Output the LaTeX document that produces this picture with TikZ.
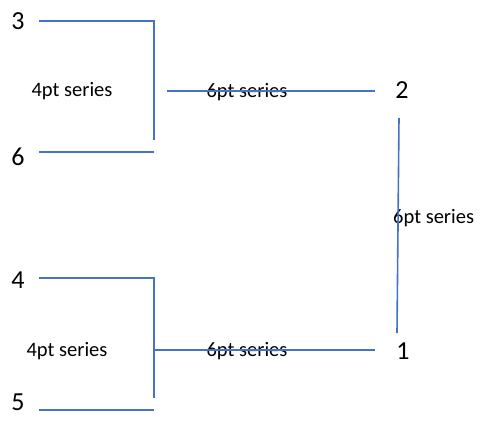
\documentclass[tikz,border=0pt]{standalone}
\usepackage{fontspec}
\setmainfont{Carlito}
\definecolor{lineblue}{RGB}{68,114,196}
\begin{document}
\begin{tikzpicture}[x=1pt,y=-1pt,
  num/.style={font=\fontsize{26}{28}\selectfont, inner sep=0pt},
  lbl/.style={font=\fontsize{20.5}{22}\selectfont, inner sep=0pt},
  wire/.style={draw=lineblue, line width=1.6pt}]
\useasboundingbox (0,0) rectangle (483,428);
% numbers
\node[num] (n3) at (18,21) {3};
\node[num] (n6) at (18,157) {6};
\node[num] (n4) at (18,280) {4};
\node[num] (n5) at (18,402) {5};
\node[num] (n2) at (402,90) {2};
\node[num] (n1) at (403,351) {1};
% labels
\node[lbl] (l4a) at (72,91) {4pt series};
\node[lbl] (l4b) at (67,351) {4pt series};
\node[lbl] (l6a) at (247,92) {6pt series};
\node[lbl] (l6b) at (247,351) {6pt series};
\node[lbl, anchor=west] (l6c) at (393,218) {6pt series};
% line end points
\coordinate (a3) at (39,21);
\coordinate (b3) at (154,21);
\coordinate (a6) at (39,152);
\coordinate (b6) at (154,152);
\coordinate (v1) at (154,140);
\coordinate (t1) at (167,91);
\coordinate (t2) at (375,91);
\coordinate (a4) at (39,278);
\coordinate (b4) at (154,278);
\coordinate (a5) at (39,410);
\coordinate (b5) at (154,410);
\coordinate (v2) at (154,398);
\coordinate (m2) at (154,350);
\coordinate (u2) at (375,350);
\coordinate (r1) at (399,118);
\coordinate (r2) at (397,333);
% lines
\draw[wire] (a3) -- (b3) -- (v1);
\draw[wire] (a6) -- (b6);
\draw[wire] (t1) -- (t2);
\draw[wire] (a4) -- (b4) -- (v2);
\draw[wire] (a5) -- (b5);
\draw[wire] (m2) -- (u2);
\draw[wire] (r1) -- (r2);
\end{tikzpicture}
\end{document}
